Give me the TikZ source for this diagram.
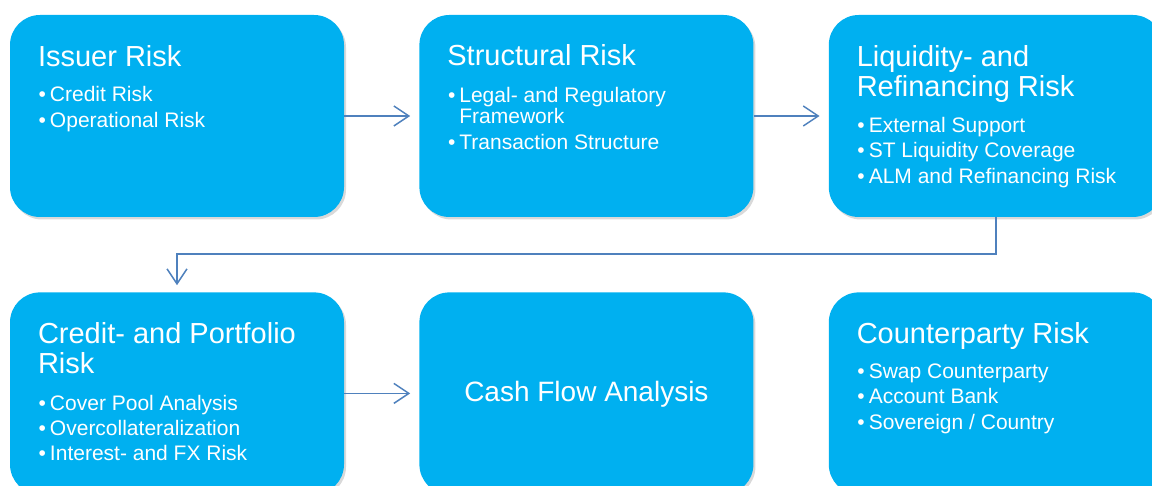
\documentclass[tikz,border=0pt]{standalone}
\usepackage{fontspec}
\setmainfont{Liberation Sans}
\usetikzlibrary{positioning}
\usetikzlibrary{calc}
\usetikzlibrary{arrows.meta}
\usetikzlibrary{shadows}
\definecolor{riskblue}{RGB}{0,176,240}
\definecolor{arrowblue}{RGB}{79,129,189}

\begin{document}
\begin{tikzpicture}[x=1pt,y=1pt,
			node distance=75pt,
			riskbox/.style = {
				fill = riskblue, rounded corners=30pt,
				minimum width=334pt, minimum height=202pt,
				drop shadow={shadow xshift=2pt, shadow yshift=-2.5pt, opacity=0.3}
			},
			boxtitle/.style = {anchor=base west, inner sep=0pt, text=white,
				align=left, font=\fontsize{29}{30}\selectfont},
			boxitem/.style = {anchor=base west, inner sep=0pt, text=white,
				align=left, font=\fontsize{21}{21}\selectfont},
			flow/.style = {draw=arrowblue, line width=1.5pt,
				-{Straight Barb[length=15pt,width=20pt]}, shorten >=9pt}
			]
			\useasboundingbox (0,0) rectangle (1152,486);
			\clip (0,0) rectangle (1152,486);
			% boxes
			\node (issuer) [riskbox] at (177,370) {};
			\node (structural) [riskbox, right = of issuer] {};
			\node (liquidity) [riskbox, right = of structural] {};
			\node (creditport) [riskbox, below = of issuer] {};
			\node (cashflow) [riskbox, right = of creditport] {};
			\node (counterparty) [riskbox, right = of cashflow] {};
			% texts (base = last line)
			\node (issuerT) [boxtitle] at ($(issuer.north west)+(28,-52)$) {Issuer Risk};
			\node (issuerA) [boxitem] at ($(issuer.north west)+(40,-87)$) {\llap{\textbullet\hspace{4pt}}Credit Risk};
			\node (issuerB) [boxitem] at ($(issuer.north west)+(40,-113)$) {\llap{\textbullet\hspace{4pt}}Operational Risk};
			\node (structuralT) [boxtitle] at ($(structural.north west)+(28,-51)$) {Structural Risk};
			\node (structuralA) [boxitem] at ($(structural.north west)+(40,-109)$) {\llap{\textbullet\hspace{4pt}}Legal- and Regulatory\\Framework};
			\node (structuralB) [boxitem] at ($(structural.north west)+(40,-135)$) {\llap{\textbullet\hspace{4pt}}Transaction Structure};
			\node (liquidityT) [boxtitle] at ($(liquidity.north west)+(28,-82)$) {Liquidity- and\\Refinancing Risk};
			\node (liquidityA) [boxitem] at ($(liquidity.north west)+(40,-118)$) {\llap{\textbullet\hspace{4pt}}External Support};
			\node (liquidityB) [boxitem] at ($(liquidity.north west)+(40,-143)$) {\llap{\textbullet\hspace{4pt}}ST Liquidity Coverage};
			\node (liquidityC) [boxitem] at ($(liquidity.north west)+(40,-169)$) {\llap{\textbullet\hspace{4pt}}ALM and Refinancing Risk};
			\node (creditportT) [boxtitle] at ($(creditport.north west)+(28,-81)$) {Credit- and Portfolio\\Risk};
			\node (creditportA) [boxitem] at ($(creditport.north west)+(40,-118)$) {\llap{\textbullet\hspace{4pt}}Cover Pool Analysis};
			\node (creditportB) [boxitem] at ($(creditport.north west)+(40,-143)$) {\llap{\textbullet\hspace{4pt}}Overcollateralization};
			\node (creditportC) [boxitem] at ($(creditport.north west)+(40,-168)$) {\llap{\textbullet\hspace{4pt}}Interest- and FX Risk};
			\node (cashflowT) [boxtitle, anchor=base, font=\fontsize{28}{30}\selectfont] at ($(cashflow.center)+(0,-8)$) {Cash Flow Analysis};
			\node (counterpartyT) [boxtitle] at ($(counterparty.north west)+(28,-51)$) {Counterparty Risk};
			\node (counterpartyA) [boxitem] at ($(counterparty.north west)+(40,-86)$) {\llap{\textbullet\hspace{4pt}}Swap Counterparty};
			\node (counterpartyB) [boxitem] at ($(counterparty.north west)+(40,-111)$) {\llap{\textbullet\hspace{4pt}}Account Bank};
			\node (counterpartyC) [boxitem] at ($(counterparty.north west)+(40,-137)$) {\llap{\textbullet\hspace{4pt}}Sovereign / Country};
			% arrows
			\draw [flow] (issuer) -- (structural);
			\draw [flow] (structural) -- (liquidity);
			\draw [flow, shorten >=7pt] (liquidity.south) -- ++(0,-37) -| (creditport.north);
			\draw [flow] (creditport) -- (cashflow);
		\end{tikzpicture}
\end{document}
